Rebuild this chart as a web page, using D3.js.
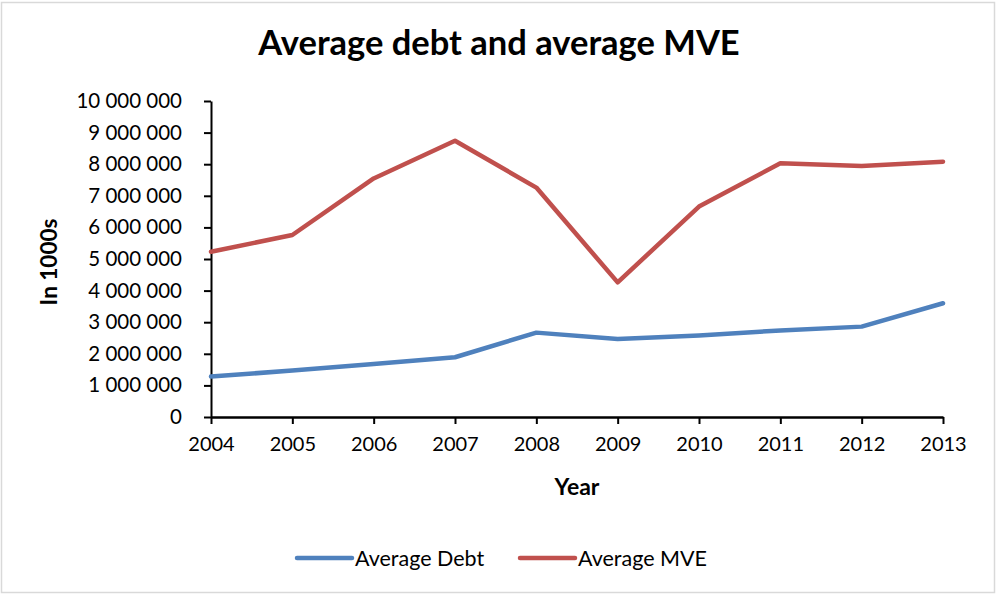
<!DOCTYPE html>
<html>
<head>
<meta charset="utf-8">
<script src="https://cdn.jsdelivr.net/npm/d3@7"></script>
<style>
  html, body { margin: 0; padding: 0; background: #ffffff; }
  svg { display: block; }
  text { font-family: Lato, "Open Sans", sans-serif; fill: #000; }
</style>
</head>
<body>
<svg id="chart" width="996" height="595"></svg>
<script>
// Years on the category axis
const years = ["2004", "2005", "2006", "2007", "2008", "2009", "2010", "2011", "2012", "2013"];
// Average debt per year (in 1000s)
const avgDebt = [1280000, 1470000, 1680000, 1890000, 2670000, 2470000, 2580000, 2740000, 2860000, 3600000];
// Average market value of equity per year (in 1000s)
const avgMVE = [5230000, 5760000, 7550000, 8740000, 7260000, 4260000, 6660000, 8030000, 7940000, 8080000];
// Value-axis tick values
const yTicks = [0, 1000000, 2000000, 3000000, 4000000, 5000000, 6000000, 7000000, 8000000, 9000000, 10000000];

const seriesNames = ["Average Debt", "Average MVE"];
const seriesColors = ["#4f81bd", "#c0504d"];

const svg = d3.select("#chart");

// outer frame
svg.append("rect")
  .attr("x", 1.5).attr("y", 2.5)
  .attr("width", 993).attr("height", 590)
  .attr("fill", "#fff")
  .attr("stroke", "#d9d9d9")
  .attr("stroke-width", 1.5);

const plot = { left: 211, right: 943, top: 101, bottom: 417 };

const x = d3.scalePoint().domain(years).range([plot.left, plot.right]);
const y = d3.scaleLinear().domain([0, 10000000]).range([plot.bottom, plot.top]);

const fmt = v => d3.format(",")(v).replace(/,/g, " ");

// title
svg.append("text")
  .attr("x", 499).attr("y", 55)
  .attr("text-anchor", "middle")
  .attr("font-size", 34.5)
  .attr("font-weight", "bold")
  .text("Average debt and average MVE");

// y axis
const yAxis = svg.append("g")
  .attr("transform", `translate(${plot.left},0)`)
  .call(d3.axisLeft(y).tickValues(yTicks).tickFormat(fmt).tickSize(7).tickSizeOuter(0).tickPadding(22));
yAxis.select(".domain").attr("stroke", "#000").attr("stroke-width", 2);
yAxis.selectAll(".tick line").attr("stroke", "#000").attr("stroke-width", 2);
yAxis.selectAll(".tick text").attr("font-size", 20.5).attr("font-family", "Lato, sans-serif").attr("fill", "#000");

// x axis
const xAxis = svg.append("g")
  .attr("transform", `translate(0,${plot.bottom})`)
  .call(d3.axisBottom(x).tickSize(7).tickSizeOuter(0).tickPadding(13));
xAxis.select(".domain").attr("stroke", "#000").attr("stroke-width", 2.5);
xAxis.selectAll(".tick line").attr("stroke", "#000").attr("stroke-width", 2);
xAxis.selectAll(".tick text").attr("font-size", 20).attr("font-family", "Lato, sans-serif").attr("fill", "#000");

// axis titles
svg.append("text")
  .attr("transform", "translate(57,262) rotate(-90)")
  .attr("text-anchor", "middle")
  .attr("font-size", 22.5)
  .attr("font-weight", "bold")
  .text("In 1000s");

svg.append("text")
  .attr("x", 577).attr("y", 495)
  .attr("text-anchor", "middle")
  .attr("font-size", 23)
  .attr("font-weight", "bold")
  .text("Year");

// series lines
const line = d3.line().x((d, i) => x(years[i])).y(d => y(d));
[avgDebt, avgMVE].forEach((vals, k) => {
  svg.append("path")
    .datum(vals)
    .attr("d", line)
    .attr("fill", "none")
    .attr("stroke", seriesColors[k])
    .attr("stroke-width", 4.5)
    .attr("stroke-linejoin", "round")
    .attr("stroke-linecap", "round");
});

// legend
const legendX = [297, 520];
seriesNames.forEach((name, k) => {
  const g = svg.append("g").attr("transform", `translate(${legendX[k]},558)`);
  g.append("line")
    .attr("x1", 0).attr("x2", 55).attr("y1", 0).attr("y2", 0)
    .attr("stroke", seriesColors[k]).attr("stroke-width", 4.5).attr("stroke-linecap", "round");
  g.append("text")
    .attr("x", 58).attr("y", 7.5)
    .attr("font-size", 21.5)
    .text(name);
});
</script>
</body>
</html>
